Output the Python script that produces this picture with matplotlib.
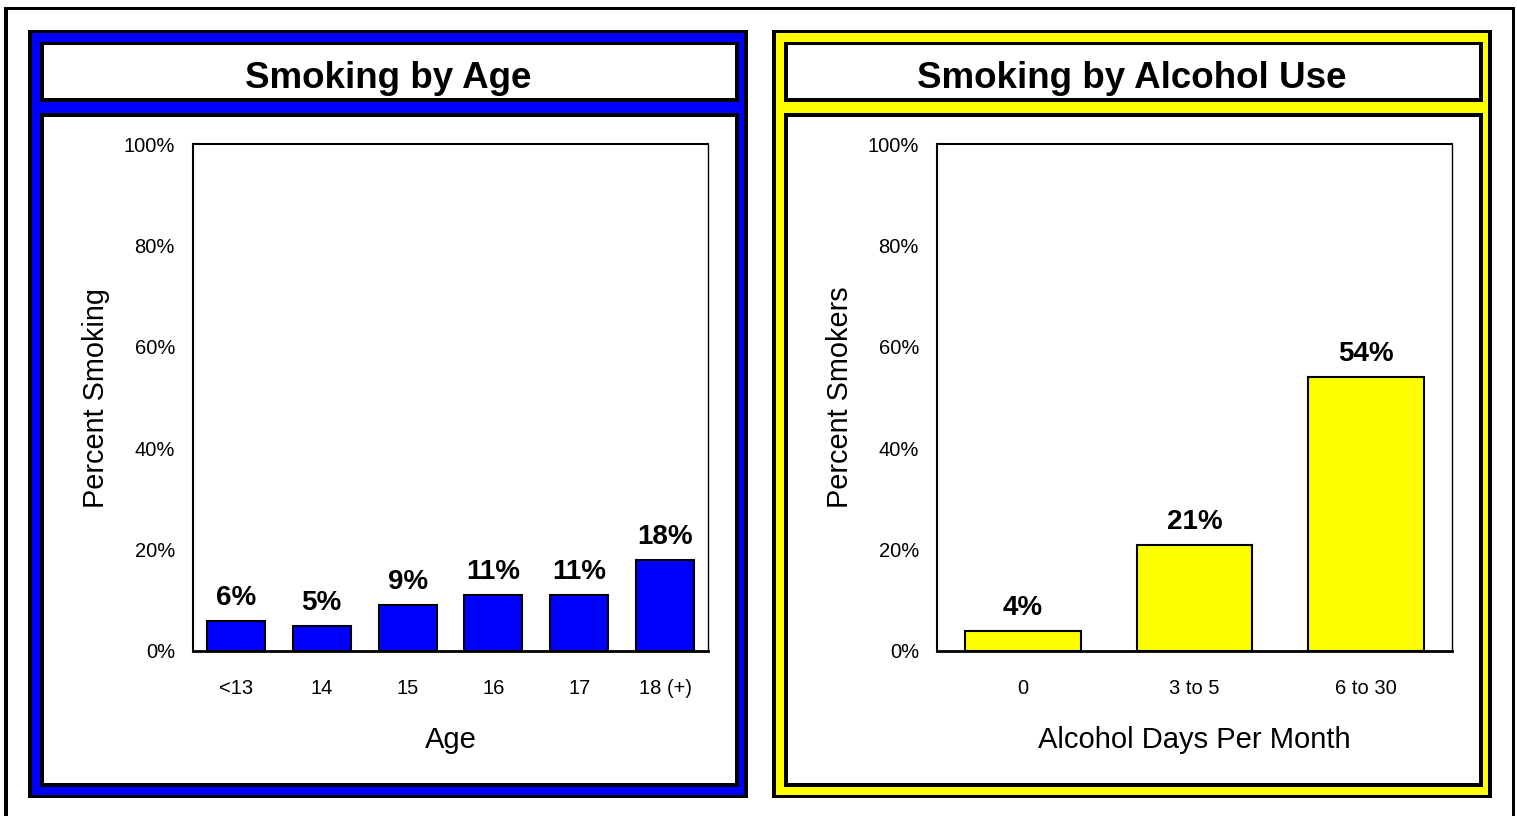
import matplotlib
matplotlib.use("Agg")
import matplotlib.pyplot as plt
from matplotlib.patches import Rectangle

plt.rcParams['font.family'] = ['Liberation Sans', 'DejaVu Sans']

# ---- data ----
age_categories = ["<13", "14", "15", "16", "17", "18 (+)"]
age_values = [6, 5, 9, 11, 11, 18]
alcohol_categories = ["0", "3 to 5", "6 to 30"]
alcohol_values = [4, 21, 54]
y_ticks = [0, 20, 40, 60, 80, 100]
y_ticklabels = ["0%", "20%", "40%", "60%", "80%", "100%"]

W, H = 1517, 816
fig = plt.figure(figsize=(W / 100, H / 100), dpi=100)
fig.patch.set_facecolor("white")

# background drawing layer in pixel coordinates
bg = fig.add_axes([0, 0, 1, 1], zorder=0)
bg.set_xlim(0, W)
bg.set_ylim(H, 0)
bg.axis("off")


def box(x0, y0, x1, y1, color):
    bg.add_patch(Rectangle((x0, y0), x1 - x0, y1 - y0, facecolor=color,
                           edgecolor="none", linewidth=0))


# outer frame
box(4, 7, 1515, 840, "black")
box(8, 10, 1512, 840, "white")


def panel(x0, x1, color):
    box(x0, 30, x1, 798, "black")
    box(x0 + 4, 33, x1 - 4, 795, color)
    # title box
    box(x0 + 12, 42, x1 - 9, 102, "black")
    box(x0 + 16, 45, x1 - 13, 98, "white")
    # content box
    box(x0 + 12, 113, x1 - 9, 787, "black")
    box(x0 + 16, 117, x1 - 13, 783, "white")


panel(28, 748, "#0000ff")
panel(772, 1492, "#ffff00")

bg.text(388, 78, "Smoking by Age", ha="center", va="center",
        fontsize=26.5, fontweight="bold")
bg.text(1132, 78, "Smoking by Alcohol Use", ha="center", va="center",
        fontsize=26.5, fontweight="bold")


def chart(left_px, cats, vals, color, ylabel, xlabel):
    ax = fig.add_axes([left_px / W, (H - 651) / H, 515 / W, 507 / H], zorder=2)
    x = list(range(len(cats)))
    ax.bar(x, vals, width=0.675, color=color, edgecolor="black",
           linewidth=1.5, zorder=3)
    ax.set_xlim(-0.5, len(cats) - 0.5)
    ax.set_ylim(0, 100)
    ax.set_yticks(y_ticks)
    ax.set_yticklabels(y_ticklabels)
    ax.set_xticks(x)
    ax.set_xticklabels(cats)
    ax.tick_params(axis="y", length=0, pad=13, labelsize=14.5)
    ax.tick_params(axis="x", length=0, pad=20, labelsize=14.5)
    for s in ["left", "top"]:
        ax.spines[s].set_linewidth(1.5)
    ax.spines["bottom"].set_linewidth(2.0)
    ax.spines["right"].set_linewidth(1.0)
    for xi, v in zip(x, vals):
        ax.annotate(f"{v}%", (xi, v), xytext=(0, 11.5),
                    textcoords="offset points", ha="center", va="baseline",
                    fontsize=20, fontweight="bold")
    ax.set_ylabel(ylabel, fontsize=20.8)
    ax.set_xlabel(xlabel, fontsize=21)
    ax.yaxis.set_label_coords(-97 / 515, 0.5)
    ax.yaxis.label.set_va("center")
    ax.xaxis.set_label_coords(0.5, -(740 - 651) / 507)
    ax.xaxis.label.set_va("center")
    return ax


chart(193, age_categories, age_values, "#0000ff", "Percent Smoking", "Age")
chart(937, alcohol_categories, alcohol_values, "#ffff00", "Percent Smokers",
      "Alcohol Days Per Month")

fig.savefig("out.png", dpi=100, facecolor="white")
